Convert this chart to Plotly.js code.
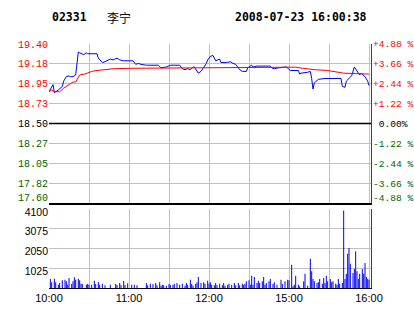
<!DOCTYPE html>
<html>
<head>
<meta charset="utf-8">
<script src="https://cdn.plot.ly/plotly-3.0.1.min.js"></script>
<style>html,body{margin:0;padding:0;background:#fff;}#chart{width:414px;height:314px;}</style>
</head>
<body>
<div id="chart"></div>
<script>
// ---- header ----
const stockCode = '02331';
const stockName = '李宁';
const stamp = '2008-07-23 16:00:38';
const prevClose = 18.50;

// ---- axis ticks ----
const priceTicks = [17.60, 17.825, 18.05, 18.275, 18.50, 18.725, 18.95, 19.175, 19.40];
const priceTickText = ['17.60', '17.82', '18.05', '18.27', '18.50', '18.73', '18.95', '19.18', '19.40'];
const pctTickText = ['-4.88 %', '-3.66 %', '-2.44 %', '-1.22 %', '\u00a00.00%', '+1.22 %', '+2.44 %', '+3.66 %', '+4.88 %'];
const volTicks = [1025, 2050, 3075, 4100];
const volTickText = ['1025', '2050', '3075', '4100'];
const timeTicks = [0, 30, 60, 90, 120, 150, 180, 210, 240];
const timeTickText = ['10:00', '', '11:00', '', '12:00', '', '15:00', '', '16:00'];

// ---- price (minutes after 10:00, trading minutes) ----
const priceT = [0,2,3,4,5,7,10,11,13,15,16,18,20,21,22,23,26,28,29,36,37,40,42,46,48,51,53,56,63,65,67,69,73,82,84,88,91,98,100,102,104,106,108,109,112,114,116,118,119,121,123,125,128,129,133,136,138,140,143,145,148,149,152,153,156,166,167,169,172,176,178,181,184,187,188,189,194,196,197,198,199,202,207,219,220,222,223,226,227,229,230,232,233,234,237,239,240];
const priceV = [18.86,18.91,18.94,18.85,18.86,18.88,18.92,18.98,19.03,19.04,19.03,19.03,19.05,19.16,19.31,19.30,19.28,19.30,19.29,19.29,19.24,19.19,19.20,19.23,19.22,19.24,19.22,19.21,19.21,19.17,19.18,19.17,19.16,19.16,19.13,19.14,19.16,19.16,19.12,19.11,19.12,19.11,19.14,19.14,19.07,19.09,19.13,19.18,19.22,19.26,19.27,19.21,19.23,19.19,19.19,19.20,19.18,19.17,19.11,19.09,19.09,19.13,19.16,19.14,19.15,19.15,19.13,19.12,19.13,19.14,19.14,19.10,19.10,19.10,19.06,19.07,19.08,19.09,19.01,18.89,18.96,19.00,19.01,19.01,18.92,18.91,18.98,19.03,19.04,19.14,19.12,19.07,19.05,19.07,19.03,18.98,18.93];

// ---- average price ----
const avgT = [0,2,4,8,11,18,20,23,27,32,36,48,60,100,150,185,190,196,199,209,221,240];
const avgV = [18.86,18.88,18.86,18.86,18.90,18.97,18.97,19.05,19.06,19.09,19.10,19.12,19.125,19.13,19.138,19.138,19.126,19.11,19.11,19.10,19.07,19.06];

// ---- volume ----
const volT = [1,2,4,5,7,8,10,12,13,14,15,17,18,19,20,22,23,24,25,28,29,30,32,34,35,37,38,40,42,46,50,51,53,54,56,57,59,62,64,66,73,74,76,78,80,81,83,84,85,86,88,90,91,93,94,96,98,100,102,103,104,106,107,108,110,111,112,114,116,117,119,120,121,122,124,125,126,128,130,131,132,134,135,137,139,140,142,143,145,146,147,148,150,151,152,153,154,156,157,158,160,161,162,163,165,166,168,169,171,174,175,177,179,180,182,183,184,185,187,188,191,192,194,196,197,198,199,201,202,203,205,206,207,208,209,211,212,213,215,216,217,218,220,221,222,223,224,225,226,228,229,230,231,232,233,235,236,237,238,239,240];
const volV = [467,300,484,294,173,260,398,432,346,173,519,208,346,554,432,484,398,225,208,173,208,173,173,380,208,311,173,225,138,173,208,156,260,156,363,156,242,173,173,138,260,138,225,208,260,138,294,121,173,138,121,208,156,173,208,260,173,225,121,260,173,433,208,121,208,294,571,260,294,225,380,225,294,173,138,260,138,225,138,260,121,173,225,173,260,138,260,138,225,173,225,346,398,173,640,173,571,260,380,260,346,571,173,260,346,467,208,294,173,433,208,346,433,398,1211,87,173,640,173,87,346,744,121,1522,865,467,346,260,294,467,225,519,260,640,346,467,294,346,225,173,467,225,260,4014,467,744,1782,2076,1263,779,986,1903,865,467,744,986,744,1298,571,467,433];

const RED = '#ff0000', GREEN = '#006400', BLACK = '#000000';
function colored(txt, c) { return '<span style="color:' + c + '">' + txt + '</span>'; }
const priceColor = priceTicks.map(v => Math.abs(v - prevClose) < 1e-9 ? BLACK : (v > prevClose ? RED : GREEN));
const leftText = priceTickText.map((t, i) => colored(t, priceColor[i]));
const rightText = pctTickText.map((t, i) => colored(t, priceColor[i]));
// the lowest label sits a little above its line (as in the source picture)
const priceSpan = priceTicks[priceTicks.length - 1] - priceTicks[0];
const labelPos = priceTicks.map((v, i) => i === 0 ? v + priceSpan * 0.036 : v);

const monoFont = {family: 'Liberation Mono, DejaVu Sans Mono, monospace', size: 10};
const monoFontR = {family: 'Liberation Mono, DejaVu Sans Mono, monospace', size: 9.6};
const sansFont = {family: 'Liberation Sans, Arial, sans-serif', size: 11, color: '#000'};
const xRange = [0, 241.5];
const grid = '#c0c0c0';

const data = [
  {x: priceT, y: priceV, type: 'scatter', mode: 'lines', line: {color: '#0000ff', width: 1}, xaxis: 'x', yaxis: 'y', hoverinfo: 'skip'},
  {x: avgT, y: avgV, type: 'scatter', mode: 'lines', line: {color: '#ff0000', width: 1}, xaxis: 'x', yaxis: 'y', hoverinfo: 'skip'},
  {x: avgT, y: avgV, type: 'scatter', mode: 'lines', opacity: 0, xaxis: 'x', yaxis: 'y2', hoverinfo: 'skip'},
  {x: volT, y: volV, type: 'bar', width: 0.75, marker: {color: '#0000ff', line: {width: 0}}, xaxis: 'x2', yaxis: 'y3', hoverinfo: 'skip'},
  {x: volT, y: volV, type: 'scatter', mode: 'lines', opacity: 0, xaxis: 'x2', yaxis: 'y4', hoverinfo: 'skip'}
];

const layout = {
  width: 414, height: 314,
  margin: {l: 49, r: 43, t: 44, b: 26},
  paper_bgcolor: '#ffffff', plot_bgcolor: '#ffffff',
  showlegend: false,
  xaxis: {domain: [0, 1], range: xRange, anchor: 'y', tickmode: 'array', tickvals: timeTicks, showticklabels: false,
          showgrid: true, gridcolor: grid, gridwidth: 1, zeroline: false, showline: true, linecolor: BLACK, linewidth: 2, ticks: ''},
  yaxis: {domain: [0.348, 1], range: [17.60, 19.40], tickmode: 'array', tickvals: labelPos, ticktext: leftText,
          tickfont: monoFont, showgrid: false, zeroline: false, showline: false, ticks: '', ticklabelstandoff: 0,
          minor: {tickmode: 'array', tickvals: priceTicks, showgrid: true, gridcolor: grid, gridwidth: 1, ticks: ''}},
  yaxis2: {overlaying: 'y', side: 'right', anchor: 'x', range: [17.60, 19.40], tickmode: 'array', tickvals: labelPos, ticktext: rightText,
           tickfont: monoFontR, showgrid: false, zeroline: false, showline: true, linecolor: '#404040', linewidth: 1, ticks: '', ticklabelstandoff: -1},
  xaxis2: {domain: [0, 1], range: xRange, anchor: 'y3', tickmode: 'array', tickvals: timeTicks, ticktext: timeTickText,
           tickfont: sansFont, showgrid: true, gridcolor: grid, zeroline: false, showline: true, linecolor: BLACK, linewidth: 1, ticks: ''},
  yaxis3: {domain: [0, 0.324], range: [0, 4100], tickmode: 'array', tickvals: volTicks, ticktext: volTickText,
           tickfont: {family: 'Liberation Sans, Arial, sans-serif', size: 10.5, color: '#000'}, showgrid: true, gridcolor: grid,
           zeroline: false, showline: false, ticks: '', ticklabelstandoff: 0, ticklabelshift: 3},
  yaxis4: {overlaying: 'y3', side: 'right', anchor: 'x2', range: [0, 4100], showticklabels: false, showgrid: false,
           zeroline: false, showline: true, linecolor: '#404040', linewidth: 1, ticks: ''},
  shapes: [
    {type: 'line', xref: 'paper', x0: 0, x1: 1, yref: 'y', y0: prevClose, y1: prevClose, line: {color: BLACK, width: 1.5}}
  ],
  annotations: [
    {text: '<b>' + stockCode + '</b>', xref: 'paper', yref: 'paper', x: 0.003, y: 1.11, xanchor: 'left', yanchor: 'middle', showarrow: false,
     font: {family: 'DejaVu Sans Mono, monospace', size: 11.5, color: '#000'}},
    {text: stockName, xref: 'paper', yref: 'paper', x: 0.173, y: 1.11, xanchor: 'left', yanchor: 'middle', showarrow: false,
     font: {family: 'Noto Sans CJK SC, sans-serif', size: 12, color: '#000'}},
    {text: '<b>' + stamp + '</b>', xref: 'paper', yref: 'paper', x: 0.994, y: 1.11, xanchor: 'right', yanchor: 'middle', showarrow: false,
     font: {family: 'DejaVu Sans Mono, monospace', size: 11.5, color: '#000'}}
  ]
};

Plotly.newPlot('chart', data, layout, {staticPlot: true, displayModeBar: false});
</script>
</body>
</html>
